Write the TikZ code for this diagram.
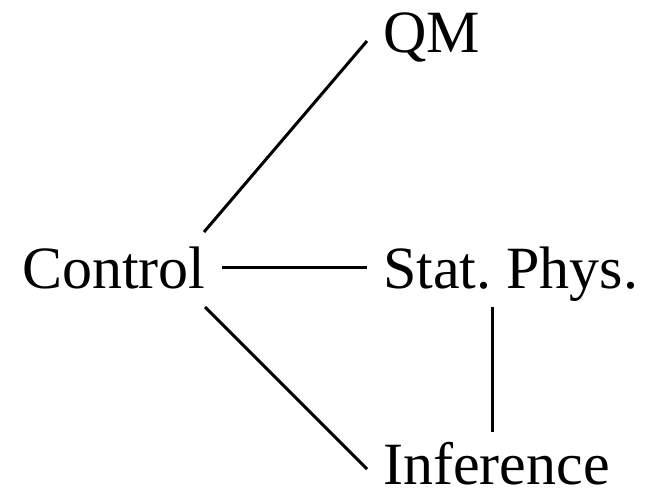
\documentclass[tikz,border=0pt]{standalone}
\usepackage{fontspec}
\setmainfont{Liberation Serif}
\begin{document}
\frenchspacing
\begin{tikzpicture}[x=1pt,y=1pt,
  lbl/.style={anchor=base west,inner sep=0pt,font=\fontsize{60}{70}\selectfont},
  link/.style={line width=3pt}]
\useasboundingbox (0,0) rectangle (648,493);
\node[lbl] (qm) at (383,440) {QM};
\node[lbl] (ctrl) at (22,204) {Control};
\node[lbl] (stat) at (383,204) {Stat.\ Phys.};
\node[lbl,text depth=0pt] (inf) at (383,9) {Inference};
\coordinate (a1) at (204,261);
\coordinate (a2) at (367,452);
\coordinate (b1) at (222,225);
\coordinate (b2) at (367,225);
\coordinate (c1) at (205,186);
\coordinate (c2) at (367,24);
\coordinate (d1) at (492,186);
\coordinate (d2) at (492,61);
\draw[link] (a1) -- (a2);
\draw[link] (b1) -- (b2);
\draw[link] (c1) -- (c2);
\draw[link] (d1) -- (d2);
\end{tikzpicture}
\end{document}
